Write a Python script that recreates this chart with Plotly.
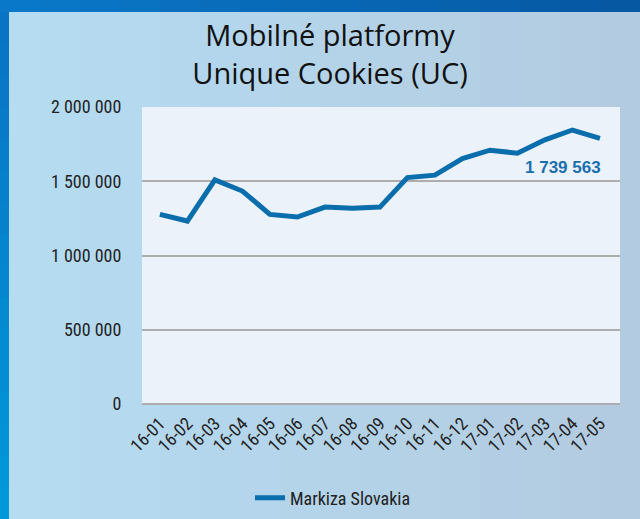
import plotly.graph_objects as go

# ---- data ----
months = ["16-01", "16-02", "16-03", "16-04", "16-05", "16-06", "16-07", "16-08", "16-09",
          "16-10", "16-11", "16-12", "17-01", "17-02", "17-03", "17-04", "17-05"]
unique_cookies = [1277000, 1232000, 1509000, 1434000, 1277000, 1259000, 1326000, 1318000, 1326000,
                  1525000, 1541000, 1653000, 1709000, 1689000, 1779000, 1845000, 1788000]
series_name = "Markiza Slovakia"
y_ticks = [0, 500000, 1000000, 1500000, 2000000]
highlight_label = "1 739 563"
title_lines = ["Mobilné platformy", "Unique Cookies (UC)"]

# ---- geometry helpers ----
W, H = 640, 519
ML, MR, MT, MB = 142, 20, 107, 115
PW, PH = W - ML - MR, H - MT - MB


def px_x(x):
    return (x - ML) / PW


def px_y(y):
    return (H - MB - y) / PH


def mix(c1, c2, t):
    a = [int(c1[i:i + 2], 16) for i in (1, 3, 5)]
    b = [int(c2[i:i + 2], 16) for i in (1, 3, 5)]
    return "#%02x%02x%02x" % tuple(round(a[k] + (b[k] - a[k]) * t) for k in range(3))


NARROW = "Liberation Sans Narrow, Arial Narrow, Roboto Condensed, Liberation Sans, sans-serif"

shapes = []
n = 16
# light panel with subtle horizontal gradient
for i in range(n):
    shapes.append(dict(type="rect", xref="paper", yref="paper", layer="below",
                       x0=px_x(W * i / n), x1=px_x(W * (i + 1) / n + 1),
                       y0=px_y(H), y1=px_y(12), line=dict(width=0),
                       fillcolor=mix("#b5dcf1", "#b3cbe1", i / (n - 1))))
# dark top band
for i in range(n):
    shapes.append(dict(type="rect", xref="paper", yref="paper", layer="below",
                       x0=px_x(W * i / n), x1=px_x(W * (i + 1) / n + 1),
                       y0=px_y(12), y1=px_y(-2), line=dict(width=0),
                       fillcolor=mix("#0a78c8", "#0658a3", i / (n - 1))))
# left band
for i in range(n):
    shapes.append(dict(type="rect", xref="paper", yref="paper", layer="below",
                       x0=px_x(-2), x1=px_x(9),
                       y0=px_y(12 + (H - 12) * (i + 1) / n + 1), y1=px_y(12 + (H - 12) * i / n),
                       line=dict(width=0),
                       fillcolor=mix("#0a74c4", "#0098d9", i / (n - 1))))
# plot area
shapes.append(dict(type="rect", xref="paper", yref="paper", layer="below",
                   x0=0, x1=1, y0=0, y1=1, line=dict(width=0), fillcolor="#ebf2f9"))

fig = go.Figure()
fig.add_trace(go.Scatter(
    x=months, y=unique_cookies, mode="lines", name=series_name,
    line=dict(color="#0a6eac", width=5),
    showlegend=True,
))

fig.add_annotation(
    x=months[-1], xref="x", y=px_y(167), yref="paper",
    text="<b>%s</b>" % highlight_label, showarrow=False,
    xanchor="right", yanchor="middle", xshift=3,
    font=dict(family="Liberation Sans, Arial, sans-serif", size=17, color="#1a6fae"),
)

fig.update_layout(
    width=W, height=H,
    margin=dict(l=ML, r=MR, t=MT, b=MB, autoexpand=False),
    paper_bgcolor="#b4d6ec",
    plot_bgcolor="rgba(0,0,0,0)",
    separators=". ",
    shapes=shapes,
    title=dict(
        text="<br>".join(title_lines),
        x=330 / W, xref="container", xanchor="center",
        y=1 - 46 / H, yref="container", yanchor="top",
        font=dict(family="Open Sans, sans-serif", size=29, color="#111111"),
    ),
    xaxis=dict(
        type="category", categoryorder="array", categoryarray=months,
        range=[-0.65, 16.73], automargin=False,
        tickangle=-45,
        tickfont=dict(family=NARROW, size=18, color="#222222"),
        showgrid=False, showline=False, zeroline=False,
        ticks="outside", ticklen=1, tickcolor="rgba(0,0,0,0)",
    ),
    yaxis=dict(
        range=[0, 2000000], tickvals=y_ticks, tickformat=",d", automargin=False,
        tickfont=dict(family=NARROW, size=18, color="#222222"),
        showgrid=True, gridcolor="#adadad", gridwidth=1.5,
        zeroline=True, zerolinecolor="#adadad", zerolinewidth=2,
        showline=False,
        ticks="outside", ticklen=16, tickcolor="rgba(0,0,0,0)",
    ),
    legend=dict(
        orientation="h", x=px_x(250), xanchor="left",
        y=px_y(498), yanchor="middle",
        bgcolor="rgba(0,0,0,0)",
        font=dict(family=NARROW, size=18, color="#222222"),
    ),
)

fig.write_html("out.html", config={"displayModeBar": False},
               post_script="document.body.style.margin='0';")
